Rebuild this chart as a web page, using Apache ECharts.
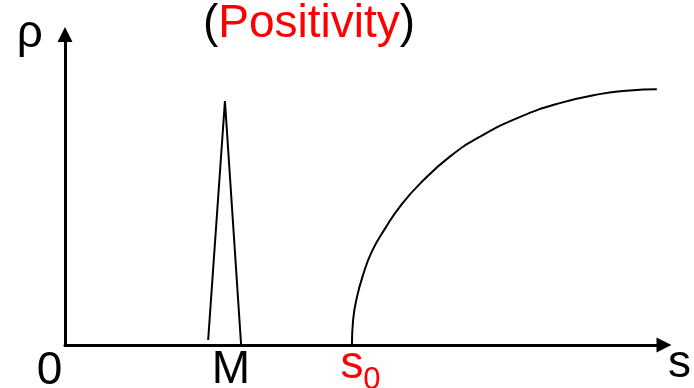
<!DOCTYPE html>
<html>
<head>
<meta charset="utf-8">
<script src="https://cdn.jsdelivr.net/npm/echarts@6/dist/echarts.min.js"></script>
<style>
  html, body { margin: 0; padding: 0; background: #fff; }
  #chart { width: 694px; height: 388px; }
</style>
</head>
<body>
<div id="chart"></div>
<script>
// Narrow peak centred on M
const spikeS   = [23.9, 26.7, 29.4];
const spikeRho = [1.6, 78.6, 0];

// Rising branch that starts at s0 and levels off
const curveS   = [47.9, 48.1, 48.7, 49.7, 51.2, 53.4, 56.2, 59.7, 64.2, 69.2, 75.9, 82.6, 89.2, 94.3, 98.8];
const curveRho = [0.0, 8.1, 15.1, 22.2, 30.0, 37.4, 45.3, 52.8, 60.6, 67.0, 73.4, 77.9, 80.8, 82.0, 82.4];

// Points on the s axis that carry labels
const originS = 0;
const peakS = spikeS[1];
const thresholdS = curveS[0];

const FONT = '"Liberation Sans", Arial, Helvetica, sans-serif';

function pairs(xs, ys) { return xs.map((x, i) => [x, ys[i]]); }

const chart = echarts.init(document.getElementById('chart'), null, { renderer: 'canvas' });

const axisLine = {
  show: true,
  symbol: ['none', 'triangle'],
  symbolSize: [15, 15],
  lineStyle: { color: '#000', width: 3 }
};

chart.setOption({
  animation: false,
  backgroundColor: '#fff',
  title: {
    text: '{k|(}{r|Positivity}{k|)}',
    left: 198,
    top: -7,
    textStyle: {
      fontWeight: 'normal',
      rich: {
        k: { fontFamily: FONT, fontSize: 46, fontWeight: 'normal', color: '#000', lineHeight: 52 },
        r: { fontFamily: FONT, fontSize: 46, fontWeight: 'normal', color: '#ff0000', lineHeight: 52 }
      }
    }
  },
  grid: { left: 65, right: 29.5, top: 34.5, bottom: 43 },
  xAxis: {
    type: 'value', min: 0, max: 100,
    name: 's', nameLocation: 'end', nameGap: 4,
    nameTextStyle: { fontFamily: FONT, fontSize: 46, color: '#000', align: 'left', verticalAlign: 'top', lineHeight: 46, padding: [-4, 0, 0, 0] },
    axisLine: axisLine,
    axisTick: { show: false }, axisLabel: { show: false }, splitLine: { show: false }
  },
  yAxis: {
    type: 'value', min: 0, max: 100,
    name: 'ρ', nameLocation: 'end', nameGap: 0,
    nameTextStyle: { fontFamily: FONT, fontSize: 46, color: '#000', align: 'right', verticalAlign: 'middle', lineHeight: 46, padding: [0, 22, 6, 0] },
    axisLine: axisLine,
    axisTick: { show: false }, axisLabel: { show: false }, splitLine: { show: false }
  },
  series: [
    {
      type: 'line',
      data: pairs(spikeS, spikeRho),
      showSymbol: false, symbol: 'none',
      lineStyle: { color: '#000', width: 2 },
      silent: true
    },
    {
      type: 'line',
      data: pairs(curveS, curveRho),
      smooth: 0.5,
      showSymbol: false, symbol: 'none',
      lineStyle: { color: '#000', width: 2 },
      silent: true
    },
    {
      // labels under the s axis
      type: 'scatter',
      symbolSize: 0,
      silent: true,
      z: 5,
      itemStyle: { opacity: 1 },
      label: { show: true, fontFamily: FONT, fontSize: 46, lineHeight: 46, align: 'center', verticalAlign: 'middle', opacity: 1 },
      data: [
        { value: [originS, 0], label: { formatter: '0', color: '#000', position: [-15.5, 26] } },
        { value: [peakS, 0], label: { formatter: 'M', color: '#000', position: [6, 25] } },
        { value: [thresholdS, 0], label: { formatter: 's', color: '#ff0000', position: [0, 20] } },
        { value: [thresholdS, 0], label: { formatter: '0', color: '#ff0000', fontSize: 31, lineHeight: 31, position: [20, 35] } }
      ]
    }
  ]
});
</script>
</body>
</html>
